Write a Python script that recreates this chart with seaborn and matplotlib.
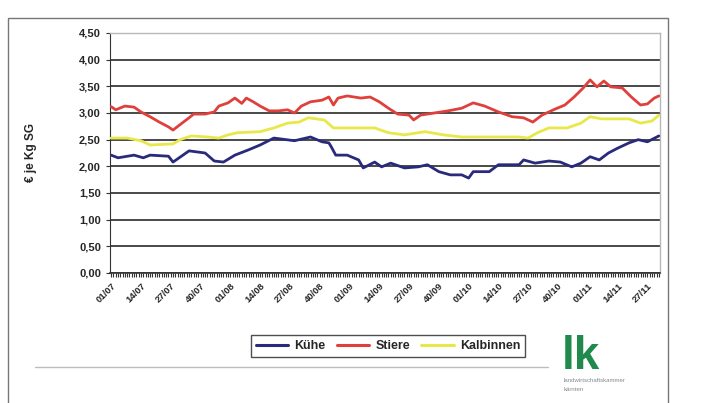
import matplotlib
matplotlib.use("Agg")
import matplotlib.pyplot as plt
from matplotlib.patches import Rectangle
from matplotlib.lines import Line2D
from matplotlib.ticker import MultipleLocator, FixedLocator
import numpy as np
import pandas as pd
import seaborn as sns

# Wochenpreise (Woche ab 01/07 gezählt) in € je kg Schlachtgewicht
kuehe_woche = [0, 3, 10, 14, 17, 25, 27, 34, 41, 45, 49, 54, 60, 65, 71, 80, 87, 92, 95,
               96, 98, 103, 108, 110, 115, 118, 122, 128, 134, 138, 143, 148, 153, 156,
               158, 165, 169, 178, 180, 185, 191, 196, 201, 205, 209, 213, 217, 221, 226,
               230, 234, 239]
kuehe_preis = [2.21, 2.16, 2.21, 2.16, 2.21, 2.19, 2.08, 2.29, 2.25, 2.10, 2.08, 2.21, 2.31,
               2.40, 2.53, 2.48, 2.55, 2.46, 2.44, 2.37, 2.21, 2.21, 2.12, 1.97, 2.08, 1.99,
               2.06, 1.97, 1.99, 2.03, 1.90, 1.84, 1.84, 1.78, 1.90, 1.90, 2.03, 2.03, 2.12,
               2.06, 2.10, 2.08, 1.99, 2.06, 2.18, 2.12, 2.25, 2.34, 2.44, 2.50, 2.46, 2.57]

stiere_woche = [0, 2, 6, 10, 13, 17, 21, 25, 27, 30, 34, 36, 41, 45, 47, 51, 54, 57, 59, 62,
                65, 69, 73, 77, 80, 83, 87, 92, 95, 97, 99, 103, 109, 113, 117, 121, 125,
                130, 132, 135, 141, 147, 153, 158, 163, 169, 175, 180, 184, 188, 193, 198,
                202, 206, 209, 212, 215, 218, 223, 227, 231, 234, 237, 239]
stiere_preis = [3.12, 3.06, 3.13, 3.11, 3.02, 2.93, 2.83, 2.74, 2.68, 2.78, 2.91, 2.98, 2.98,
                3.02, 3.13, 3.19, 3.28, 3.18, 3.28, 3.21, 3.13, 3.04, 3.04, 3.06, 3.00, 3.13,
                3.21, 3.24, 3.30, 3.15, 3.28, 3.32, 3.28, 3.30, 3.21, 3.09, 2.98, 2.96, 2.87,
                2.96, 3.00, 3.04, 3.09, 3.19, 3.13, 3.02, 2.93, 2.91, 2.83, 2.96, 3.06, 3.15,
                3.30, 3.47, 3.62, 3.49, 3.60, 3.49, 3.47, 3.30, 3.15, 3.17, 3.28, 3.32]

kalbinnen_woche = [0, 7, 13, 17, 27, 30, 35, 42, 47, 51, 55, 65, 71, 77, 82, 86, 93, 97, 105,
                   115, 121, 128, 137, 145, 153, 167, 178, 182, 186, 191, 199, 205, 209, 214,
                   226, 231, 236, 239]
kalbinnen_preis = [2.53, 2.53, 2.48, 2.40, 2.42, 2.50, 2.57, 2.55, 2.53, 2.59, 2.63, 2.65,
                   2.72, 2.81, 2.83, 2.91, 2.87, 2.72, 2.72, 2.72, 2.63, 2.59, 2.65, 2.59,
                   2.55, 2.55, 2.55, 2.53, 2.63, 2.72, 2.72, 2.81, 2.93, 2.89, 2.89, 2.81,
                   2.85, 2.96]

# Achsenbeschriftung: Kalenderwoche/Jahr, alle 13 Wochen
jahre = ["07", "08", "09", "10", "11"]
wochen = ["01", "14", "27", "40"]
tick_labels = [f"{w}/{j}" for j in jahre for w in wochen][:19]
n_wochen = 240

serien = [
    ("Kühe", kuehe_woche, kuehe_preis, "#2a2a7c"),
    ("Stiere", stiere_woche, stiere_preis, "#e0403c"),
    ("Kalbinnen", kalbinnen_woche, kalbinnen_preis, "#e8e84a"),
]
df = pd.concat(
    [pd.DataFrame({"Woche": w, "Preis": p, "Kategorie": name}) for name, w, p, _ in serien],
    ignore_index=True,
)

sns.set_style("white")
plt.rcParams["font.family"] = ["Liberation Sans", "DejaVu Sans"]

fig = plt.figure(figsize=(7.02, 4.03), dpi=100)
ax = fig.add_axes([110 / 702, 1 - 273 / 403, 550 / 702, 240 / 403])

sns.lineplot(
    data=df, x="Woche", y="Preis", hue="Kategorie",
    palette={name: c for name, _, _, c in serien},
    hue_order=[s[0] for s in serien],
    linewidth=2.0, ax=ax, legend=False, zorder=3,
)

ax.set_xlim(-0.5, n_wochen - 0.5)
ax.set_ylim(0, 4.5)
ax.yaxis.set_major_locator(MultipleLocator(0.5))
ax.set_yticklabels([f"{v:.2f}".replace(".", ",") for v in ax.get_yticks()],
                   fontsize=8, fontweight="bold")
ax.grid(axis="y", color="#3a3a3a", linewidth=1.3, zorder=1)
ax.grid(axis="x", visible=False)

major = list(range(0, 13 * len(tick_labels), 13))
ax.xaxis.set_major_locator(FixedLocator(major))
ax.xaxis.set_minor_locator(MultipleLocator(1))
ax.set_xticklabels(tick_labels, rotation=45, ha="right", rotation_mode="anchor",
                   fontsize=6.8, fontweight="bold")
ax.tick_params(axis="x", which="both", direction="out", length=3, width=0.8,
               color="#333333", bottom=True, pad=3)
ax.tick_params(axis="y", direction="out", length=3, width=0.8, color="#333333", left=True)
ax.set_xlabel("")
ax.set_ylabel("€ je Kg SG", fontsize=8.5, fontweight="bold", labelpad=30)

for side in ("top", "right"):
    ax.spines[side].set_color("#b8b8b8")
    ax.spines[side].set_linewidth(1.0)
ax.spines["left"].set_color("#333333")
ax.spines["bottom"].set_color("#333333")
ax.spines["bottom"].set_linewidth(1.2)

# Legende unter dem Diagramm
handles = [Line2D([0], [0], color=c, linewidth=2.2) for _, _, _, c in serien]
leg = fig.legend(handles, [s[0] for s in serien], loc="center",
                 bbox_to_anchor=(388 / 702, 1 - 346 / 403), ncol=3,
                 frameon=True, fancybox=False, handlelength=2.6, handletextpad=0.5,
                 columnspacing=0.9, borderpad=0.4,
                 prop={"size": 9, "weight": "bold"})
leg.get_frame().set_edgecolor("#222222")
leg.get_frame().set_linewidth(1.0)

# Rahmen der Seite und Trennlinie
fig.patches.append(Rectangle((8 / 702, -0.02), 660 / 702, 1.02 - 18 / 403,
                             transform=fig.transFigure, fill=False,
                             edgecolor="#777777", linewidth=1.0))
fig.add_artist(Line2D([35 / 702, 548 / 702], [1 - 367 / 403, 1 - 367 / 403],
                      transform=fig.transFigure, color="#bdbdbd", linewidth=1.0))

# Logo der Landwirtschaftskammer
fig.text(562 / 702, 1 - 369 / 403, "lk", fontsize=33, fontweight="bold",
         family=["Liberation Sans Narrow", "Liberation Sans"],
         color="#1f8a4c", ha="left", va="baseline")
fig.text(564 / 702, 1 - 382 / 403, "landwirtschaftskammer", fontsize=4.3,
         color="#888888", ha="left", va="baseline")
fig.text(564 / 702, 1 - 391 / 403, "kärnten", fontsize=4.3,
         color="#888888", ha="left", va="baseline")

fig.savefig("out.png", dpi=100)
